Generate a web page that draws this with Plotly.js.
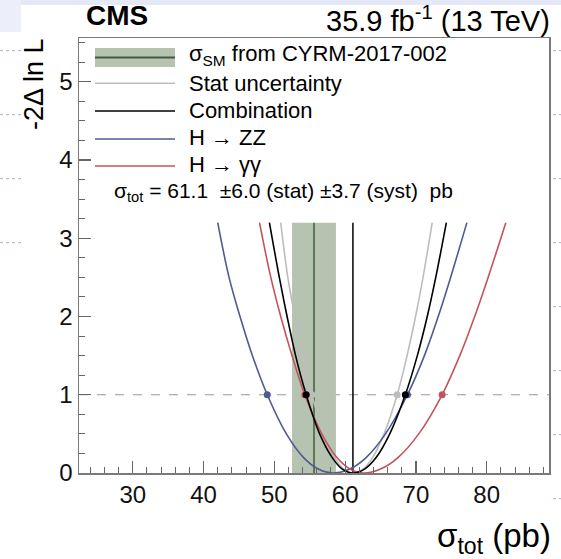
<!DOCTYPE html>
<html>
<head>
<meta charset="utf-8">
<script src="https://cdn.plot.ly/plotly-3.0.1.min.js"></script>
<style>
  html, body { margin: 0; padding: 0; background: #ffffff; }
  #chart { width: 561px; height: 559px; }
</style>
</head>
<body>
<div id="chart"></div>
<script>
// ---------------- data ----------------
const curveLevels = [3.2, 2.5, 2.0, 1.5, 1.0, 0.5, 0.2, 0.05, 0, 0.05, 0.2, 0.5, 1.0, 1.5, 2.0, 2.5, 3.2];
const combinationX = [49.3, 50.7, 51.8, 53.0, 54.5, 56.4, 58.15, 59.6, 61.1, 62.75, 64.4, 66.3, 68.5, 70.2, 71.6, 72.8, 74.3];
const statOnlyX    = [50.9, 51.9, 52.9, 54.0, 55.3, 57.0, 58.5, 59.8, 61.1, 62.5, 63.9, 65.5, 67.35, 68.75, 69.95, 71.0, 72.3];
const hzzX         = [42.0, 43.6, 45.15, 46.9, 49.0, 51.7, 54.1, 56.2, 58.3, 60.65, 63.0, 65.7, 68.8, 71.2, 73.15, 74.9, 77.2];
const hggX         = [47.9, 49.5, 50.9, 52.5, 54.3, 56.7, 58.8, 60.7, 62.5, 65.0, 67.5, 70.4, 73.7, 76.2, 78.3, 80.2, 82.7];

const bestFit = 61.1;              // combined best fit (vertical black line)
const smCentral = 55.6;            // sigma_SM from CYRM-2017-002
const smBand = [52.5, 58.7];       // its uncertainty band
const drawnTop = 3.2;              // curves end under the legend box
const oneSigmaLevel = 1;           // dashed line

const xTickValues = [30, 40, 50, 60, 70, 80];
const yTickValues = [0, 1, 2, 3, 4, 5];

const legendLabels = [
  "σ<sub>SM</sub> from CYRM-2017-002",
  "Stat uncertainty",
  "Combination",
  "H → ZZ",
  "H → γγ"
];
const resultText = "σ<sub>tot</sub> = 61.1  ±6.0 (stat) ±3.7 (syst)  pb";

// ---------------- styles ----------------
const C_COMB = "#000000";
const C_STAT = "#bdbdbd";
const C_ZZ = "#4f5a92";
const C_GG = "#c4545c";
const C_BAND = "#b6c3b1";
const C_BANDLINE = "#3f5e3d";
const FONT = "Liberation Sans, Arial, Helvetica, sans-serif";

// pixel helpers for paper coordinates (plot area: left 79, top 38, 470 x 435)
const PL = 79, PT = 38, PW = 470, PH = 435;
const px = v => (v - PL) / PW;
const py = v => (PT + PH - v) / PH;

function dotsAt(xs, level) {
  const out = [];
  curveLevels.forEach((y, i) => { if (y === level) out.push(xs[i]); });
  return out;
}

const traces = [];
// SM band
traces.push({
  x: [smBand[0], smBand[1], smBand[1], smBand[0], smBand[0]],
  y: [0, 0, drawnTop, drawnTop, 0],
  type: "scatter", mode: "lines", fill: "toself",
  fillcolor: C_BAND, line: { width: 0, color: C_BAND },
  hoverinfo: "skip", showlegend: false
});
traces.push({
  x: [smCentral, smCentral], y: [0, drawnTop],
  type: "scatter", mode: "lines", line: { color: C_BANDLINE, width: 1.5 },
  showlegend: false
});
traces.push({
  x: [bestFit, bestFit], y: [0, drawnTop],
  type: "scatter", mode: "lines", line: { color: C_COMB, width: 1.5 },
  showlegend: false
});

const curves = [
  { x: statOnlyX, c: C_STAT, name: "Stat uncertainty" },
  { x: hzzX, c: C_ZZ, name: "H → ZZ" },
  { x: hggX, c: C_GG, name: "H → γγ" },
  { x: combinationX, c: C_COMB, name: "Combination" }
];
curves.forEach(cv => {
  traces.push({
    x: cv.x, y: curveLevels, type: "scatter", mode: "lines",
    line: { color: cv.c, width: 1.6, shape: "spline", smoothing: 1 },
    name: cv.name, showlegend: false
  });
});
curves.forEach(cv => {
  const dx = dotsAt(cv.x, oneSigmaLevel);
  traces.push({
    x: dx, y: dx.map(() => oneSigmaLevel), type: "scatter", mode: "markers",
    marker: { color: cv.c, size: 7 }, showlegend: false
  });
});

// ---------------- layout ----------------
const shapes = [
  // slide background decorations outside the figure
  { type: "rect", xref: "paper", yref: "paper", x0: px(0), x1: px(561), y0: py(0), y1: py(5), fillcolor: "#e4e8f7", line: { width: 0 }, layer: "below" },
  { type: "rect", xref: "paper", yref: "paper", x0: px(0), x1: px(21), y0: py(0), y1: py(32), fillcolor: "#eceffa", line: { width: 0 }, layer: "below" },
  // dashed 1-sigma line
  { type: "line", xref: "paper", yref: "y", x0: 0, x1: 1, y0: oneSigmaLevel, y1: oneSigmaLevel, line: { color: "#999999", width: 1, dash: "dash" }, layer: "below" },
  // legend samples
  { type: "rect", xref: "paper", yref: "paper", x0: px(95), x1: px(175), y0: py(67), y1: py(48), fillcolor: C_BAND, line: { width: 0 } },
  { type: "line", xref: "paper", yref: "paper", x0: px(95), x1: px(175), y0: py(57.5), y1: py(57.5), line: { color: C_BANDLINE, width: 2 } },
  { type: "line", xref: "paper", yref: "paper", x0: px(95), x1: px(175), y0: py(83.3), y1: py(83.3), line: { color: C_STAT, width: 1.6 } },
  { type: "line", xref: "paper", yref: "paper", x0: px(95), x1: px(175), y0: py(111), y1: py(111), line: { color: C_COMB, width: 1.6 } },
  { type: "line", xref: "paper", yref: "paper", x0: px(95), x1: px(175), y0: py(139), y1: py(139), line: { color: C_ZZ, width: 1.6 } },
  { type: "line", xref: "paper", yref: "paper", x0: px(95), x1: px(175), y0: py(166), y1: py(166), line: { color: C_GG, width: 1.6 } }
];
// dotted slide grid lines visible at the sides
[50.7, 114.7, 178.7, 242.7].forEach(yy => {
  shapes.push({ type: "line", xref: "paper", yref: "paper", x0: px(0), x1: px(21), y0: py(yy), y1: py(yy), line: { color: "#9fb0e0", width: 1, dash: "dot" }, layer: "below" });
});
[50.7, 114.7, 178.7, 242.7, 306.7, 370.7, 434.7, 498.7].forEach(yy => {
  shapes.push({ type: "line", xref: "paper", yref: "paper", x0: px(553), x1: px(561), y0: py(yy), y1: py(yy), line: { color: "#9fb0e0", width: 1, dash: "dot" }, layer: "below" });
});

const legendY = [55, 83, 110, 137, 164];
const annotations = [
  { text: "<b>CMS</b>", xref: "paper", yref: "paper", x: px(84), y: py(16), xanchor: "left", yanchor: "middle", showarrow: false, font: { family: FONT, size: 28, color: "#000" } },
  { text: "35.9 fb<sup>-1</sup> (13 TeV)", xref: "paper", yref: "paper", x: px(552), y: py(19), xanchor: "right", yanchor: "middle", showarrow: false, font: { family: FONT, size: 29, color: "#000" } },
  { text: "σ<sub>tot</sub> (pb)", xref: "paper", yref: "paper", x: px(553), y: py(538), xanchor: "right", yanchor: "middle", showarrow: false, font: { family: FONT, size: 33, color: "#000" } },
  { text: "-2Δ ln L", xref: "paper", yref: "paper", x: px(34), y: py(36), xanchor: "center", yanchor: "top", textangle: -90, showarrow: false, font: { family: FONT, size: 27, color: "#000" } },
  { text: resultText, xref: "paper", yref: "paper", x: px(112), y: py(192), xanchor: "left", yanchor: "middle", showarrow: false, font: { family: FONT, size: 21, color: "#000" } }
];
legendLabels.forEach((t, i) => {
  annotations.push({ text: t, xref: "paper", yref: "paper", x: px(187), y: py(legendY[i]), xanchor: "left", yanchor: "middle", showarrow: false, font: { family: FONT, size: 22, color: "#000" } });
});

const axisCommon = {
  showgrid: false, zeroline: false, showline: true, mirror: true,
  linecolor: "#7a7a7a", linewidth: 1.5,
  ticks: "inside", tickcolor: "#666", tickwidth: 1.2,
  tickfont: { family: FONT, size: 24, color: "#111" }
};

const layout = {
  width: 561, height: 559,
  margin: { l: PL, r: 561 - PL - PW, t: PT, b: 559 - PT - PH, pad: 0 },
  paper_bgcolor: "#ffffff", plot_bgcolor: "#ffffff",
  showlegend: false,
  xaxis: Object.assign({}, axisCommon, {
    range: [22.4, 88.8], tickmode: "array", tickvals: xTickValues, ticktext: xTickValues.map(String),
    ticklen: 12,
    minor: { dtick: 2, tick0: 0, ticks: "inside", ticklen: 6, tickcolor: "#666", tickwidth: 1 }
  }),
  yaxis: Object.assign({}, axisCommon, {
    range: [0, 5.56], tickmode: "array", tickvals: yTickValues, ticktext: yTickValues.map(String),
    ticklen: 12,
    minor: { dtick: 0.25, tick0: 0, ticks: "inside", ticklen: 6, tickcolor: "#666", tickwidth: 1 }
  }),
  shapes: shapes,
  annotations: annotations
};

Plotly.newPlot("chart", traces, layout, { displayModeBar: false, staticPlot: true });
</script>
</body>
</html>
